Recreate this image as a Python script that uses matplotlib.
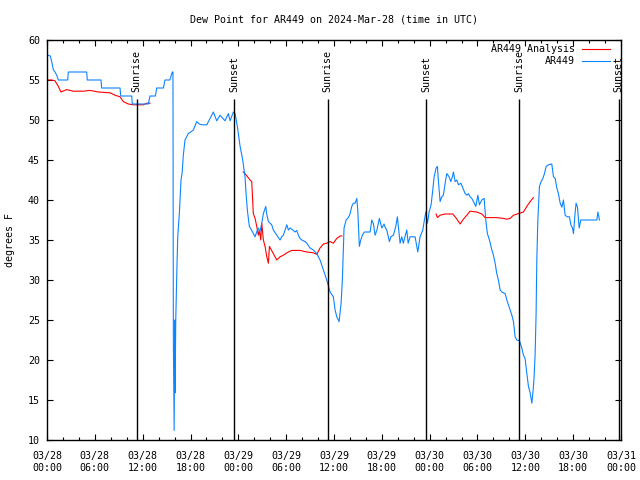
import matplotlib
matplotlib.use("Agg")
import matplotlib.pyplot as plt
from matplotlib.ticker import MultipleLocator

plt.rcParams['font.family'] = ['DejaVu Sans Mono', 'DejaVu Sans']
plt.rcParams['font.size'] = 7.2

# hours since 2024-03-28 00:00 UTC
obs_hours = [0.16, 0.41, 0.59, 0.79, 1.0, 1.22, 1.42, 2.6, 2.67, 4.98, 5.05, 6.78, 6.85,
             9.16, 9.25, 10.63, 10.7, 12.71, 12.92, 13.6, 13.76, 14.6, 14.8, 15.4, 15.72,
             15.8, 15.85, 15.95, 16.02, 16.07, 16.15, 16.3, 16.4, 16.6, 16.7, 16.81, 16.95,
             17.1, 17.31, 17.73, 18.36, 18.78, 19.1, 19.41, 20.04, 20.45, 20.87, 21.29,
             21.71, 22.33, 22.75, 22.96, 23.38, 23.59, 23.88, 24.22, 24.55, 24.84, 24.97,
             25.13, 25.38, 25.68, 26.1, 26.3, 26.5, 26.7, 26.94, 27.14, 27.44, 27.55, 27.77,
             28.19, 28.39, 28.82, 29.23, 29.45, 29.65, 29.86, 30.08, 30.28, 30.49, 30.9,
             31.1, 31.33, 31.53, 31.74, 31.96, 32.37, 32.58, 33.0, 33.41, 33.84, 34.25,
             34.67, 35.09, 35.51, 35.92, 36.14, 36.35, 36.64, 36.89, 37.05, 37.18, 37.26,
             37.52, 37.8, 38.02, 38.23, 38.43, 38.65, 38.86, 38.98, 39.18, 39.36, 39.56,
             39.81, 40.53, 40.74, 40.95, 41.15, 41.37, 41.69, 42.0, 42.28, 42.45, 42.62,
             42.95, 43.12, 43.45, 43.75, 43.95, 44.1, 44.29, 44.5, 44.7, 44.9, 45.13, 45.3,
             45.55, 46.17, 46.39, 46.51, 46.8, 47.14, 47.34, 47.52, 47.72, 47.93, 48.18,
             48.39, 48.56, 48.81, 48.97, 49.1, 49.31, 49.52, 49.72, 49.94, 50.15, 50.44,
             50.65, 50.85, 50.98, 51.19, 51.4, 51.61, 51.91, 52.16, 52.45, 52.66, 52.86,
             53.07, 53.29, 53.49, 53.79, 54.04, 54.24, 54.54, 54.83, 55.04, 55.24, 55.5,
             55.8, 56.0, 56.21, 56.42, 56.62, 56.84, 57.05, 57.47, 57.68, 57.88, 58.09,
             58.31, 58.51, 58.72, 58.93, 59.26, 59.56, 59.76, 59.97, 60.19, 60.39, 60.6,
             60.82, 61.02, 61.1, 61.23, 61.35, 61.44, 61.57, 61.77, 61.98, 62.2, 62.4,
             62.61, 62.9, 63.32, 63.53, 63.74, 63.95, 64.15, 64.37, 64.58, 64.78, 64.99,
             65.24, 65.53, 65.71, 65.91, 66.04, 66.25, 66.37, 66.54, 66.75, 66.96, 68.97,
             69.1, 69.3]
obs_dewpt = [58.1, 58.0, 57.3, 56.3, 56.0, 55.6, 55.0, 55.0, 56.0, 56.0, 55.0, 55.0, 54.0,
             54.0, 53.0, 53.0, 52.0, 52.0, 53.0, 53.0, 54.0, 54.0, 55.0, 55.0, 56.0,
             56.0, 22.5, 11.2, 25.0, 15.9, 25.0, 31.7, 35.4, 38.3, 40.4, 42.5, 43.4,
             45.6, 47.5, 48.3, 48.75, 49.8, 49.5, 49.4, 49.4, 50.2, 51.0, 49.9,
             50.6, 49.9, 50.8, 49.9, 51.0, 50.8, 49.2, 46.7, 45.0, 42.9, 40.8,
             38.75, 36.7, 36.2, 35.4, 36.0, 36.5, 36.0, 37.1, 38.3, 39.2, 38.3, 37.3,
             36.9, 36.25, 35.6, 35.0, 35.4, 35.6, 36.25, 36.9, 36.25, 36.5, 36.2,
             36.0, 36.2, 35.6, 35.2, 35.0, 34.8, 34.6, 34.0, 33.75, 33.3, 32.5,
             31.25, 30.0, 28.5, 27.9, 26.25, 25.4, 24.8, 27.1, 30.0, 34.2, 36.5,
             37.5, 37.8, 38.3, 39.2, 39.6, 39.6, 40.2, 38.75, 34.2, 35.0, 35.6,
             36.0, 36.0, 37.5, 37.0, 35.6, 36.2, 37.7, 36.5, 37.0, 36.5, 36.25,
             34.8, 35.4, 35.6, 36.7, 37.9, 36.5, 34.6, 35.4, 34.6, 35.4, 36.25, 34.6,
             35.4, 35.4, 34.2, 33.5, 35.4, 36.25, 37.5, 38.5, 37.1, 38.5, 39.4,
             41.25, 42.9, 44.0, 44.2, 42.3, 39.8, 40.4, 40.6, 42.1, 43.3, 42.9,
             42.3, 42.9, 43.5, 42.3, 42.5, 41.9, 42.1, 41.5, 40.8, 40.6, 40.8,
             40.4, 40.2, 39.8, 39.2, 40.6, 39.4, 40.0, 40.2, 37.5, 35.8, 35.0,
             33.75, 33.1, 32.1, 30.8, 30.0, 28.75, 28.5, 28.3, 27.5, 26.9, 26.25,
             25.6, 24.8, 22.9, 22.5, 22.4, 21.5, 20.6, 20.2, 18.3, 16.7, 15.9,
             14.6, 16.7, 17.9, 20.8, 25.8, 32.5, 37.5, 41.7, 42.3, 42.7, 43.3,
             44.2, 44.4, 44.5, 42.9, 42.7, 41.5, 40.8, 39.6, 39.1, 40.0, 38.1,
             37.9, 37.9, 36.9, 36.5, 35.8, 38.5, 39.6, 39.1, 36.5, 37.5, 37.5,
             38.5, 37.5]

# analysis comes in three separate pieces
ana_hours_1 = [0.13, 0.59, 1.0, 1.42, 1.76, 2.47, 3.3, 4.55, 5.4, 6.44, 7.9, 8.53, 9.16,
               9.57, 10.2, 10.83, 12.08, 12.51, 12.92]
ana_dewpt_1 = [55.0, 55.0, 54.9, 54.2, 53.5, 53.8, 53.6, 53.6, 53.7, 53.5, 53.4, 53.1, 52.9,
               52.3, 52.0, 51.9, 51.9, 52.1, 52.1]
ana_hours_2 = [24.6, 24.84, 25.47, 25.68, 25.88, 26.1, 26.31, 26.51, 26.64, 26.81, 26.94,
               27.14, 27.35, 27.57, 27.77, 27.9, 28.39, 28.82, 29.23, 29.65, 30.08, 30.7,
               31.74, 32.58, 33.41, 33.84, 34.25, 34.67, 35.09, 35.51, 35.92, 36.35, 36.76,
               36.97]
ana_dewpt_2 = [43.5, 43.3, 42.5, 42.3, 38.3, 37.7, 36.7, 35.6, 36.2, 35.0, 37.1,
               35.0, 34.2, 32.9, 32.1, 34.2, 33.3, 32.5, 32.9, 33.1, 33.4, 33.7,
               33.7, 33.5, 33.4, 33.2, 34.0, 34.5, 34.6, 34.8, 34.6, 35.2, 35.5,
               35.5]
ana_hours_3 = [48.81, 48.97, 49.31, 49.94, 50.9, 51.32, 51.82, 52.23, 52.66, 53.07, 53.91,
               54.54, 54.96, 56.42, 57.25, 57.68, 58.09, 58.51, 59.13, 59.76, 60.19, 60.6,
               61.02]
ana_dewpt_3 = [38.25, 37.8, 38.1, 38.25, 38.25, 37.75, 37.0, 37.6, 38.1, 38.6, 38.5,
               38.25, 37.8, 37.8, 37.7, 37.6, 37.7, 38.1, 38.3, 38.5, 39.2, 39.8,
               40.3]

sunrise_hours = [11.25, 35.2, 59.25]
sunset_hours = [23.5, 47.6, 71.7]

tick_hours = list(range(0, 73, 6))
tick_labels = ['03/28\n00:00', '03/28\n06:00', '03/28\n12:00', '03/28\n18:00',
               '03/29\n00:00', '03/29\n06:00', '03/29\n12:00', '03/29\n18:00',
               '03/30\n00:00', '03/30\n06:00', '03/30\n12:00', '03/30\n18:00',
               '03/31\n00:00']

red = '#ff0000'
blue = '#0c84ff'

fig = plt.figure(figsize=(6.4, 4.8), dpi=100)
ax = fig.add_axes([47 / 640, 40 / 480, 574 / 640, 400 / 480])

ax.plot(ana_hours_1, ana_dewpt_1, color=red, lw=0.8, label='AR449 Analysis')
ax.plot(ana_hours_2, ana_dewpt_2, color=red, lw=0.8)
ax.plot(ana_hours_3, ana_dewpt_3, color=red, lw=0.8)
ax.plot(obs_hours, obs_dewpt, color=blue, lw=0.8, label='AR449')

for h in sunrise_hours:
    ax.vlines(h, 10, 52.6, color='black', lw=1)
    ax.text(h, 53.5, 'Sunrise', rotation=90, ha='center', va='bottom')
for h in sunset_hours:
    ax.vlines(h, 10, 52.6, color='black', lw=1)
    ax.text(h, 53.5, 'Sunset', rotation=90, ha='center', va='bottom')

ax.set_xlim(0, 72)
ax.set_ylim(10, 60)
ax.set_xticks(tick_hours)
ax.set_xticklabels(tick_labels)
ax.xaxis.set_minor_locator(MultipleLocator(2))
ax.yaxis.set_major_locator(MultipleLocator(5))
ax.tick_params(which='both', direction='in', top=True, right=True, width=0.8)
ax.tick_params(which='major', length=4)
ax.tick_params(which='minor', length=2.2)
ax.tick_params(axis='x', pad=8)
ax.tick_params(axis='y', pad=5)
for s in ax.spines.values():
    s.set_linewidth(1)

fig.text(334 / 640, 1 - 19 / 480, 'Dew Point for AR449 on 2024-Mar-28 (time in UTC)',
         ha='center', va='center')
fig.text(10 / 640, 0.5, 'degrees F', rotation=90, ha='center', va='center')

ax.legend(loc='upper right', bbox_to_anchor=(610 / 640, 1 - 44 / 480),
          bbox_transform=fig.transFigure, frameon=False, markerfirst=False,
          handlelength=2.8, handletextpad=0.7, labelspacing=0.2,
          borderpad=0, borderaxespad=0)

fig.savefig('out.png', dpi=100)
